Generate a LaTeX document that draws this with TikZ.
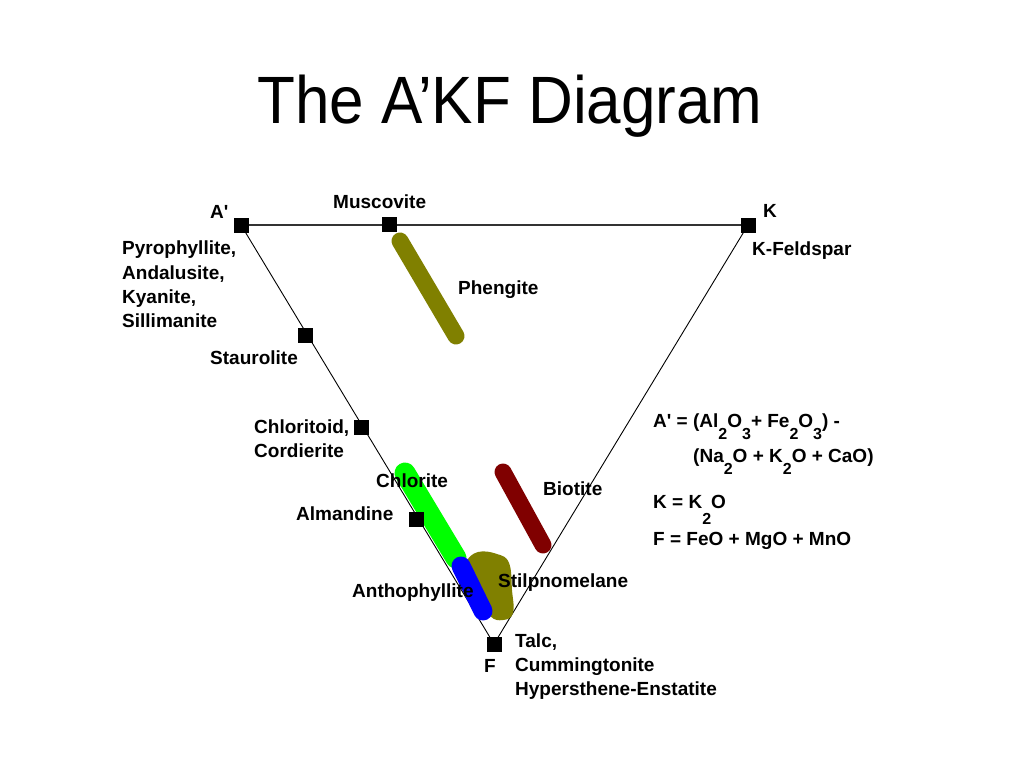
\documentclass[tikz,border=0pt]{standalone}
\usepackage{fontspec}
\setmainfont{Liberation Sans}
\newfontfamily\lblfont{Liberation Sans}
\newcommand{\lowsub}[1]{\raisebox{-12pt}{\fontsize{16}{16}\selectfont #1}}
\newcommand{\lowsubb}[1]{\raisebox{-16pt}{\fontsize{16}{16}\selectfont #1}}
\definecolor{olivec}{RGB}{128,128,0}
\definecolor{maroonc}{RGB}{128,0,0}
\definecolor{greenc}{RGB}{0,255,0}
\definecolor{bluec}{RGB}{0,0,255}
\begin{document}
\begin{tikzpicture}[x=1pt,y=-1pt,
  mk/.style={rectangle,fill=black,minimum size=15pt,inner sep=0pt},
  lbl/.style={font=\lblfont\fontsize{19}{24}\selectfont\bfseries,inner sep=0pt,anchor=base west},
  band/.style={line width=17pt,line cap=round},
  edge/.style={draw=black,line width=0.9pt}]
\useasboundingbox (0,0) rectangle (1024,768);
\fill[white] (0,0) rectangle (1024,768);
% title
\node[inner sep=0pt,anchor=base] (title) at (510,123)
  {\scalebox{1}[1.08]{\fontsize{62}{70}\selectfont The A’KF Diagram}};
% corner and phase markers
\coordinate (Ac) at (241,225);
\coordinate (Kc) at (748,225);
\coordinate (Fc) at (494,644);
\draw[line width=2.2pt,black!80] (Ac) -- (Kc);
\draw[edge] (Ac) -- (Fc);
\draw[edge] (Kc) -- (Fc);
% bands
\coordinate (ph1) at (400,241);
\coordinate (ph2) at (456,336);
\draw[band,olivec] (ph1) -- (ph2);
\coordinate (bi1) at (503,472);
\coordinate (bi2) at (543,545);
\draw[band,maroonc] (bi1) -- (bi2);
\coordinate (ch1) at (405,473);
\coordinate (ch2) at (456,558);
\draw[band,line width=21pt,greenc] (ch1) -- (ch2);
\fill[olivec] plot[smooth cycle,tension=0.7] coordinates
  {(466,562) (478,552) (497,554) (509,563) (512,590) (513,613) (503,620) (490,616) (478,596) (466,575)};
\coordinate (an1) at (461,566);
\coordinate (an2) at (483,611);
\draw[band,line width=19pt,bluec] (an1) -- (an2);
% markers
\node[mk] (A) at (Ac) {};
\node[mk] (Mu) at (389,224) {};
\node[mk] (K) at (Kc) {};
\node[mk] (St) at (305,335) {};
\node[mk] (Cd) at (361,427) {};
\node[mk] (Al) at (416,519) {};
\node[mk] (F) at (Fc) {};
% labels
\node[lbl] (lA) at (210,218) {A'};
\node[lbl] (lMu) at (333,208) {Muscovite};
\node[lbl] (lK) at (763,217) {K};
\node[lbl] (lKf) at (752,255) {K-Feldspar};
\node[lbl] (lPy1) at (122,254) {Pyrophyllite,};
\node[lbl] (lPy2) at (122,279) {Andalusite,};
\node[lbl] (lPy3) at (122,303) {Kyanite,};
\node[lbl] (lPy4) at (122,327) {Sillimanite};
\node[lbl] (lSt) at (210,364) {Staurolite};
\node[lbl] (lPh) at (458,294) {Phengite};
\node[lbl] (lCd1) at (254,433) {Chloritoid,};
\node[lbl] (lCd2) at (254,457) {Cordierite};
\node[lbl] (lCh) at (376,487) {Chlorite};
\node[lbl] (lAl) at (296,520) {Almandine};
\node[lbl] (lBi) at (543,495) {Biotite};
\node[lbl] (lSp) at (498,587) {Stilpnomelane};
\node[lbl] (lAn) at (352,597) {Anthophyllite};
\node[lbl] (lF) at (484,672) {F};
\node[lbl] (lTa1) at (515,647) {Talc,};
\node[lbl] (lTa2) at (515,671) {Cummingtonite};
\node[lbl] (lTa3) at (515,695) {Hypersthene-Enstatite};
% formulas
\node[lbl] (f1) at (653,427) {A' = (Al\lowsub{2}O\lowsub{3}+ Fe\lowsub{2}O\lowsub{3}) -};
\node[lbl] (f2) at (693,462) {(Na\lowsub{2}O + K\lowsub{2}O + CaO)};
\node[lbl] (f3) at (653,508) {K = K\lowsubb{2}O};
\node[lbl] (f4) at (653,545) {F = FeO + MgO + MnO};
\end{tikzpicture}
\end{document}
